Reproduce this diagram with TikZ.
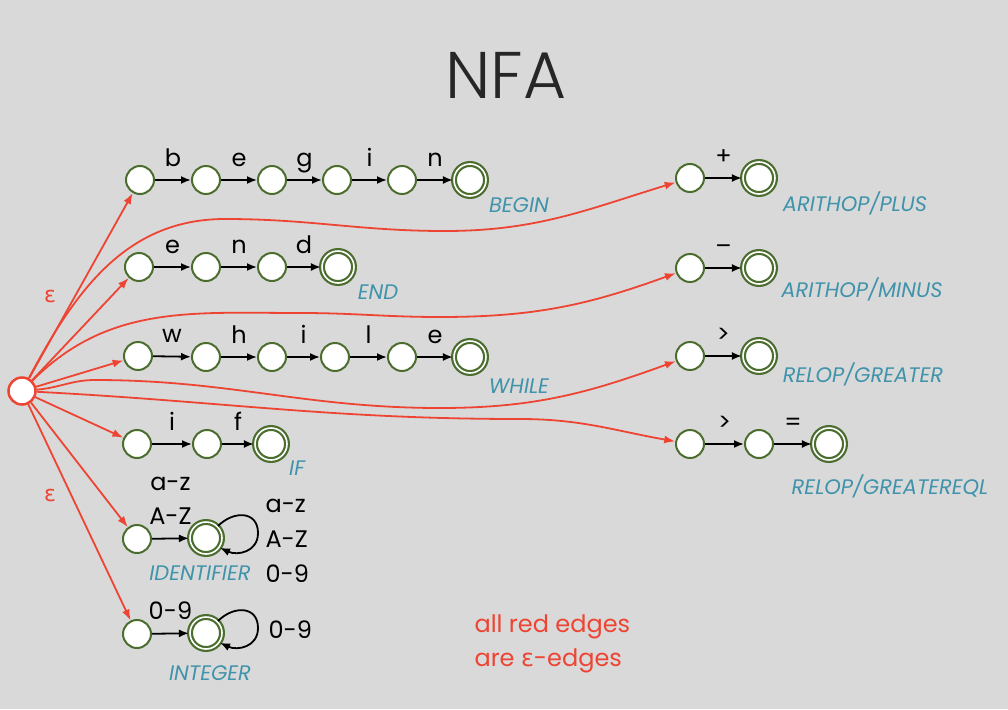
\documentclass[tikz,border=0pt]{standalone}
\usepackage{fontspec}
\setmainfont{Poppins}
\newfontfamily\epsfont{DejaVu Sans}
\newfontfamily\ttlfont{Poppins Light}
\usetikzlibrary{arrows.meta}
\definecolor{bg}{HTML}{D9D9D9}
\definecolor{stgreen}{HTML}{4B6E2E}
\definecolor{epsred}{HTML}{EE4433}
\definecolor{tokblue}{HTML}{3F93AB}
\definecolor{ttlgray}{HTML}{262626}
\tikzset{
  st/.style={circle, draw=stgreen, fill=white, line width=2pt, minimum size=28pt, inner sep=0pt},
  acc/.style={circle, draw=stgreen, fill=white, double=white, double distance=1.6pt, line width=2.2pt, minimum size=32pt, inner sep=0pt},
  start/.style={circle, draw=epsred, fill=white, line width=2.5pt, minimum size=27pt, inner sep=0pt},
  tr/.style={-{Latex[length=10pt,width=8pt]}, line width=1.8pt},
  eps/.style={-{Latex[length=11pt,width=8pt]}, line width=1.8pt, draw=epsred},
  sym/.style={above=13pt, inner sep=0pt, text depth=0pt, font=\fontsize{24}{34}\selectfont},
  tok/.style={text=tokblue, font=\itshape\fontsize{21}{26}\selectfont},
}
\begin{document}
\begin{tikzpicture}[x=1pt,y=-1pt]
\fill[bg] (0,0) rectangle (1008,709);

\node[text=ttlgray, font=\ttlfont\fontsize{66}{70}\selectfont] (title) at (506,75) {NFA};

\node[start] (s) at (22,391) {};

% begin
\node[st] (b0) at (140,180) {};
\node[st] (b1) at (206,180) {};
\node[st] (b2) at (272,180) {};
\node[st] (b3) at (337,180) {};
\node[st] (b4) at (402,180) {};
\node[acc] (b5) at (470,180) {};
\draw[tr] (b0)--node[sym]{b}(b1);
\draw[tr] (b1)--node[sym]{e}(b2);
\draw[tr] (b2)--node[sym]{g}(b3);
\draw[tr] (b3)--node[sym]{i}(b4);
\draw[tr] (b4)--node[sym]{n}(b5);
\node[tok] at (519,205) {BEGIN};

% end
\node[st] (e0) at (139,267) {};
\node[st] (e1) at (206,267) {};
\node[st] (e2) at (272,267) {};
\node[acc] (e3) at (338,267) {};
\draw[tr] (e0)--node[sym]{e}(e1);
\draw[tr] (e1)--node[sym]{n}(e2);
\draw[tr] (e2)--node[sym]{d}(e3);
\node[tok] at (378,292) {END};

% while
\node[st] (w0) at (138,356) {};
\node[st] (w1) at (206,357) {};
\node[st] (w2) at (272,357) {};
\node[st] (w3) at (335,357) {};
\node[st] (w4) at (402,357) {};
\node[acc] (w5) at (470,357) {};
\draw[tr] (w0)--node[sym]{w}(w1);
\draw[tr] (w1)--node[sym]{h}(w2);
\draw[tr] (w2)--node[sym]{i}(w3);
\draw[tr] (w3)--node[sym]{l}(w4);
\draw[tr] (w4)--node[sym]{e}(w5);
\node[tok] at (519,386) {WHILE};

% if
\node[st] (i0) at (137,444) {};
\node[st] (i1) at (207,444) {};
\node[acc] (i2) at (271,444) {};
\draw[tr] (i0)--node[sym]{i}(i1);
\draw[tr] (i1)--node[sym]{f}(i2);
\node[tok] at (297,468) {IF};

% identifier
\node[st] (id0) at (137,539) {};
\node[acc] (id1) at (206,538) {};
\draw[tr] (id0)--node[sym, align=center]{a-z\\A-Z}(id1);
\draw[tr] (id1.45) to[out=45,in=90,looseness=1.4] (258,533) to[out=-90,in=-25,looseness=1.2] (id1.-35);
\node[anchor=west, align=left, font=\fontsize{24}{35}\selectfont] at (262,541) {a-z\\A-Z\\0-9};
\node[tok] at (200,573) {IDENTIFIER};

% integer
\node[st] (n0) at (137,634) {};
\node[acc] (n1) at (206,633) {};
\draw[tr] (n0)--node[sym]{0-9}(n1);
\draw[tr] (n1.45) to[out=45,in=90,looseness=1.4] (258,628) to[out=-90,in=-25,looseness=1.2] (n1.-35);
\node[anchor=west, font=\fontsize{24}{35}\selectfont] at (265,630) {0-9};
\node[tok] at (210,673) {INTEGER};

% operators
\node[st] (p0) at (690,178) {};
\node[acc] (p1) at (759,178) {};
\draw[tr] (p0)--node[sym]{+}(p1);
\node[tok] at (855,203) {ARITHOP/PLUS};

\node[st] (m0) at (690,268) {};
\node[acc] (m1) at (759,268) {};
\draw[tr] (m0)--node[sym]{–}(m1);
\node[tok] at (862,289) {ARITHOP/MINUS};

\node[st] (g0) at (690,356) {};
\node[acc] (g1) at (759,356) {};
\draw[tr] (g0)--node[sym]{>}(g1);
\node[tok] at (863,374) {RELOP/GREATER};

\node[st] (ge0) at (690,444) {};
\node[st] (ge1) at (759,444) {};
\node[acc] (ge2) at (829,444) {};
\draw[tr] (ge0)--node[sym]{>}(ge1);
\draw[tr] (ge1)--node[sym]{=}(ge2);
\node[tok] at (890,486) {RELOP/GREATEREQL};

% epsilon edges
\draw[eps] (s) -- (b0);
\draw[eps] (s) -- (e0);
\draw[eps] (s) -- (w0);
\draw[eps] (s) -- (i0);
\draw[eps] (s) -- (id0);
\draw[eps] (s) -- (n0);
\draw[eps] (s) to[out=62,in=180] (225,219) to[out=0,in=180] (445,231) to[out=0,in=197] (p0);
\draw[eps] (s) to[out=45,in=180] (300,313) to[out=0,in=180] (440,317) to[out=0,in=200] (m0);
\draw[eps] (s) to[out=5,in=180] (95,380) to[out=0,in=180] (440,408) to[out=0,in=200] (g0);
\draw[eps] (s) to[out=-3,in=180] (520,419) to[out=0,in=170] (ge0);

\node[text=epsred, font=\epsfont\fontsize{22}{26}\selectfont] at (50,296) {ε};
\node[text=epsred, font=\epsfont\fontsize{22}{26}\selectfont] at (50,495) {ε};

\node[anchor=west, align=left, text=epsred, font=\fontsize{24}{34}\selectfont] at (471,644)
{all red edges\\are {\epsfont ε}-edges};
\end{tikzpicture}
\end{document}
